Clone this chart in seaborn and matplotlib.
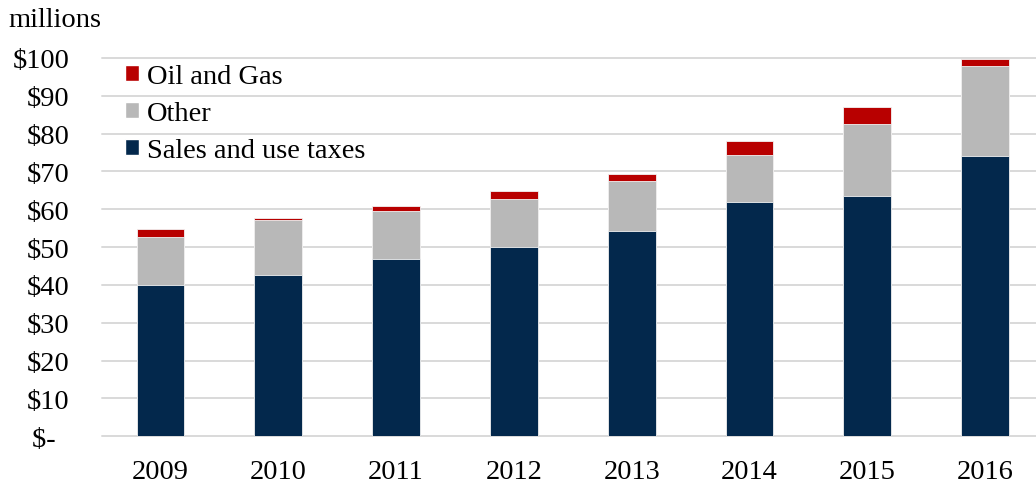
import matplotlib
matplotlib.use("Agg")
import matplotlib.pyplot as plt
from matplotlib.patches import Patch
import seaborn as sns
import pandas as pd

# Revenue by source, millions of dollars
years = ["2009", "2010", "2011", "2012", "2013", "2014", "2015", "2016"]
sales_use = [40.1, 42.6, 46.9, 50.0, 54.3, 61.9, 63.5, 74.0]
other = [12.5, 14.6, 12.6, 12.8, 13.3, 12.5, 19.0, 23.8]
oil_gas = [2.2, 0.5, 1.3, 2.1, 1.7, 3.7, 4.5, 2.0]

y_ticks = [0, 10, 20, 30, 40, 50, 60, 70, 80, 90, 100]
y_tick_labels = ["$-  ", "$10", "$20", "$30", "$40", "$50", "$60", "$70", "$80", "$90", "$100"]

NAVY = "#03284c"
GRAY = "#b8b8b8"
RED = "#b80000"
GRID = "#d9d9d9"

sns.set_theme(style="white")
plt.rcParams["font.family"] = ["Liberation Serif", "DejaVu Serif"]
plt.rcParams["text.color"] = "black"

df = pd.DataFrame({"year": years, "sales": sales_use, "other": other, "oil": oil_gas})
df["sales_other"] = df["sales"] + df["other"]
df["total"] = df["sales_other"] + df["oil"]

W, H = 1036, 489
fig = plt.figure(figsize=(W / 100, H / 100), dpi=100)
ax = fig.add_axes([101.6 / W, 1 - 437.3 / H, (W - 101.6) / W, (437.3 - 59) / H])

bw = 0.405
bar_kw = dict(width=bw, saturation=1, ax=ax, zorder=3, linewidth=0.6, edgecolor="#f2f2f2")
# stacked bars drawn back-to-front from cumulative heights
sns.barplot(data=df, x="year", y="total", color=RED, **bar_kw)
sns.barplot(data=df, x="year", y="sales_other", color=GRAY, **bar_kw)
sns.barplot(data=df, x="year", y="sales", color=NAVY, **bar_kw)

ax.set_ylim(0, 100)
ax.set_xlim(-0.5, (W - 101.6) / 117.8 - 0.5)
ax.set_yticks(y_ticks)
ax.set_yticklabels(y_tick_labels)
for v in y_ticks:
    ax.axhline(v, color=GRID, lw=1.4, zorder=1, clip_on=False)

for s in ax.spines.values():
    s.set_visible(False)
ax.grid(False)
ax.set_xlabel("")
ax.set_ylabel("")
ax.tick_params(axis="both", length=0, labelsize=20.5, colors="black")
ax.tick_params(axis="y", pad=23)
ax.tick_params(axis="x", pad=16)

handles = [Patch(facecolor=RED), Patch(facecolor=GRAY), Patch(facecolor=NAVY)]
labels = ["Oil and Gas", "Other", "Sales and use taxes"]
fig.legend(handles, labels, loc="upper left",
           bbox_to_anchor=(125 / W, 1 - 65 / H),
           frameon=False, fontsize=20.5, handlelength=0.48, handleheight=0.48,
           handletextpad=0.3, labelspacing=0.42, borderpad=0, borderaxespad=0,
           labelcolor="black")

fig.text(8 / W, 1 - 27 / H, "millions", fontsize=20.5, va="baseline", ha="left")

fig.savefig("out.png", dpi=100)
